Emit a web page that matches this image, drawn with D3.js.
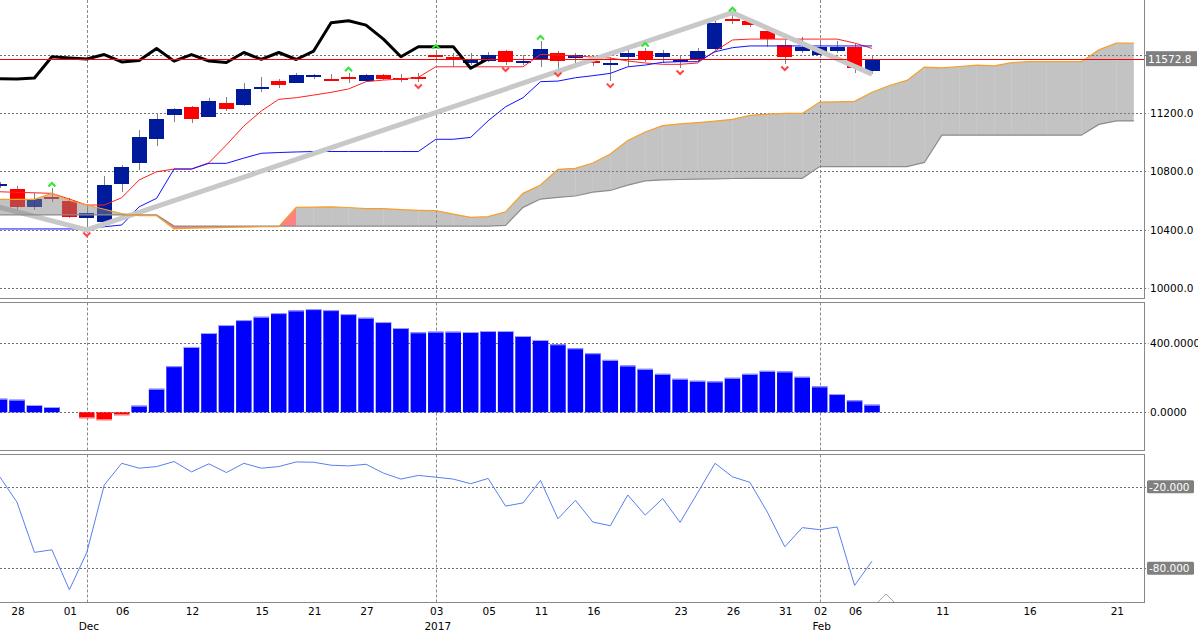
<!DOCTYPE html>
<html>
<head>
<meta charset="utf-8">
<script src="https://cdn.jsdelivr.net/npm/d3@7/dist/d3.min.js"></script>
<style>
html,body{margin:0;padding:0;background:#fff;overflow:hidden;}
svg{display:block;font-family:"DejaVu Sans",Verdana,sans-serif;}
</style>
</head>
<body>
<svg id="chart" width="1198" height="635"></svg>
<script>
"use strict";

// daily bars, bar 0 is the half hidden one at the left edge
var opens  = [10699,10679,10557,10624,10599,10478,10455,10711,10859,11024,11188,11241,11175,11269,11255,11365,11421,11408,11447,11433,
              11449,11421,11463,11442,11449,11598,11584,11545,11559,11625,11545,11570,11613,11574,11560,11539,11586,11627,11586,11557,
              11568,11639,11845,11831,11762,11666,11627,11598,11625,11655,11490];
var highs  = [10727,10699,10651,10686,10619,10549,10768,10843,11083,11202,11236,11248,11301,11312,11404,11449,11433,11476,11470,11465,
              11476,11470,11466,11465,11476,11632,11611,11609,11618,11632,11598,11694,11625,11611,11591,11586,11632,11646,11632,11598,
              11644,11833,11888,11849,11781,11705,11719,11687,11696,11678,11598];
var lows   = [10686,10535,10535,10592,10480,10398,10439,10660,10809,10976,11140,11133,11175,11214,11248,11346,11371,11404,11433,11419,
              11404,11417,11426,11411,11413,11563,11517,11529,11552,11529,11529,11517,11495,11545,11524,11419,11524,11552,11541,11509,
              11552,11632,11810,11792,11655,11536,11609,11586,11609,11476,11467];
var closes = [10710,10557,10608,10615,10489,10516,10706,10832,11035,11159,11227,11161,11282,11229,11365,11376,11394,11461,11461,11426,
              11442,11463,11435,11433,11440,11586,11577,11570,11601,11550,11560,11642,11556,11601,11557,11546,11615,11568,11615,11567,
              11625,11819,11833,11803,11707,11586,11655,11655,11655,11507,11572.8];

// ichimoku lines
var tenkan = [10660,10656,10653,10649,10610,10569,10569,10619,10741,10797,10816,10816,10859,10981,11111,11214,11294,11305,11323,11342,
              11365,11415,11426,11433,11445,11517,11517,11517,11517,11517,11517,11602,11598,11591,11584,11577,11557,11543,11534,11534,
              11543,11625,11701,11707,11707,11707,11707,11707,11707,11680,11643];
var kijun  = [10405,10405,10405,10405,10405,10405,10420,10432,10557,10615,10816,10816,10855,10855,10891,10924,10929,10933,10936,10936,
              10936,10936,10936,10936,10936,11020,11020,11033,11147,11243,11305,11415,11419,11442,11456,11472,11517,11529,11548,11552,
              11552,11620,11648,11660,11660,11660,11660,11660,11660,11660,11660];
var senkouA = [10608,10608,10608,10649,10600,10569,10540,10510,10497,10496,10405,10410,10413,10416,10418,10420,10420,10553,10555,10557,
               10552,10544,10544,10538,10533,10530,10507,10485,10489,10523,10649,10706,10814,10821,10857,10919,11011,11070,11114,11125,
               11134,11145,11157,11184,11192,11197,11197,11275,11277,11280,11343,11389,11424,11515,11510,11519,11528,11524,11545,11552,
               11552,11552,11552,11633,11679,11679];
var senkouB = [10501,10501,10501,10501,10501,10501,10501,10501,10501,10501,10425,10425,10425,10425,10425,10425,10425,10425,10425,10425,
               10425,10425,10425,10425,10425,10425,10425,10425,10425,10430,10553,10610,10621,10631,10658,10669,10706,10735,10741,10744,
               10747,10749,10751,10752,10752,10752,10752,10833,10833,10833,10833,10833,10833,10861,11048,11048,11048,11048,11048,11048,
               11048,11048,11048,11122,11146,11146];
var chikouShift = 22;

// fractals and zigzag
var upFractals = [3,20,25,31,37,42];
var downFractals = [5,24,29,32,35,39,45];
var zigzagIndex = [-3,5,42,50];
var zigzagValue = [10648,10398,11888,11467];

// lower panels
var histValues = [78.8,73,42.3,30.8,0,-34.6,-46,-17.3,38.5,136.5,267.3,378.8,459.6,505.7,534.6,553.8,575,590.4,598,592.3,
                  569.2,548,523,488.4,463.4,467.3,467.3,465.4,471.1,471.1,442.3,419.2,394.2,371.1,342.3,303.8,271.1,252,223,194.2,
                  182.7,178.8,200,223,240.4,236.5,205.8,150,105.8,69.2,44.2];
var willrValues = [-12.5,-31.4,-68.3,-66.4,-95.8,-68.3,-18.8,-2.8,-6.4,-5.2,-1.5,-9.1,-3.2,-9.6,-2.8,-6.4,-5.2,-1.8,-2.0,-4.2,
                   -4.7,-3.5,-10.0,-14.4,-11.7,-13.0,-14.4,-17.8,-13.9,-34.3,-31.9,-15.4,-43.6,-30.0,-46.0,-48.7,-26.1,-40.9,-28.7,-46.2,
                   -24.6,-2.8,-12.7,-16.8,-38.7,-64.2,-50.1,-51.6,-49.6,-92.6,-74.7];

// ticks
var dayTickIndex = [1,4,7,11,15,18,21,25,28,31,34,39,42,45,47,49,54,59,64];
var dayTickLabel = ["28","01","06","12","15","21","27","03","05","11","16","23","26","31","02","06","11","16","21"];
var monthTickIndex = [5,25,47];
var monthTickLabel = ["Dec","2017","Feb"];
var priceTicks = [10000,10400,10800,11200,11600];
var histTicks = [0,400];
var willrTicks = [-20,-80];

var plotRight = 1144.5;
var pricePanel = [-1, 298.5];
var histPanel = [302.5, 450.5];
var willrPanel = [454.5, 602.5];
var fontSize = "10.5px";

var svg = d3.select("#chart");

var x = d3.scaleLinear().domain([0, 65]).range([-0.45, 1133.8]);
var yPrice = d3.scaleLinear().domain([10000, 11600]).range([288, 54.7]);
var yHist = d3.scaleLinear().domain([0, 400]).range([412.3, 343.3]);
var yWillr = d3.scaleLinear().domain([-20, -80]).range([486.7, 568.3]);

var lastPrice = closes[closes.length - 1];

function px(v){ return Math.round(v) + 0.5; }

// clip areas for the three panels
var defs = svg.append("defs");
function addClip(id, panel){
    defs.append("clipPath").attr("id", id).append("rect")
        .attr("x", 0).attr("y", Math.max(0, panel[0]))
        .attr("width", plotRight).attr("height", panel[1] - Math.max(0, panel[0]));
}
addClip("clipPrice", pricePanel);
addClip("clipHist", histPanel);
addClip("clipWillr", willrPanel);

/**
 * dotted grid + right axis labels of one panel
 * @param hideNear  pixel y where a label box sits (label under it is skipped)
 */
function drawGrid(panel, scale, ticks, format, boxed, hideNear){
    var g = svg.append("g").attr("class", "grid");

    g.selectAll(".hGrid").data(ticks).enter().append("line")
        .attr("x1", 0).attr("x2", plotRight + 4)
        .attr("y1", function(d){ return px(scale(d)); })
        .attr("y2", function(d){ return px(scale(d)); })
        .attr("stroke", "#707070")
        .attr("stroke-dasharray", "2,2");

    g.selectAll(".vGrid").data(monthTickIndex).enter().append("line")
        .attr("x1", function(d){ return px(x(d)); })
        .attr("x2", function(d){ return px(x(d)); })
        .attr("y1", Math.max(0, panel[0])).attr("y2", panel[1])
        .attr("stroke", "#8a8a8a")
        .attr("stroke-dasharray", "3,2");

    var shown = ticks.filter(function(d){
        return hideNear === undefined || Math.abs(scale(d) - hideNear) > 12;
    });
    var labels = g.selectAll(".yLabel").data(shown).enter().append("g")
        .attr("transform", function(d){ return "translate(0," + scale(d) + ")"; });
    if(boxed){
        labels.append("rect")
            .attr("x", 1147).attr("y", -6.5)
            .attr("width", 47).attr("height", 13)
            .attr("rx", 1.5)
            .attr("fill", "#808080");
    }
    labels.append("text")
        .attr("x", boxed ? 1149 : 1150)
        .attr("y", 3.9)
        .attr("font-size", fontSize)
        .attr("fill", boxed ? "#fff" : "#000")
        .text(format);
}

drawGrid(pricePanel, yPrice, priceTicks, function(d){ return d.toFixed(1); }, false, yPrice(lastPrice));
drawGrid(histPanel, yHist, histTicks, function(d){ return d.toFixed(4); }, false);
drawGrid(willrPanel, yWillr, willrTicks, function(d){ return d.toFixed(3); }, true);

// ---------- price panel ----------
var gPrice = svg.append("g").attr("clip-path", "url(#clipPrice)");
var bars = d3.range(closes.length);

// wicks
gPrice.selectAll(".wick").data(bars).enter().append("line")
    .attr("class", "wick")
    .attr("x1", function(i){ return px(x(i)); })
    .attr("x2", function(i){ return px(x(i)); })
    .attr("y1", function(i){ return Math.round(yPrice(highs[i])); })
    .attr("y2", function(i){ return Math.round(yPrice(lows[i])); })
    .attr("stroke", "#808080");

// bodies
gPrice.selectAll(".body").data(bars).enter().append("rect")
    .attr("class", "body")
    .attr("x", function(i){ return Math.round(x(i) - 7.5); })
    .attr("width", 15)
    .attr("y", function(i){ return Math.round(yPrice(Math.max(opens[i], closes[i]))); })
    .attr("height", function(i){
        var h = Math.round(yPrice(Math.min(opens[i], closes[i]))) - Math.round(yPrice(Math.max(opens[i], closes[i])));
        return Math.max(2, h);
    })
    .attr("fill", function(i){ return closes[i] >= opens[i] ? "#001a9c" : "#ff0000"; });

var lineGen = d3.line()
    .x(function(d, i){ return x(i); })
    .y(function(d){ return yPrice(d); });

gPrice.append("path").datum(tenkan)
    .attr("d", lineGen)
    .attr("fill", "none").attr("stroke", "#ff2020").attr("stroke-width", 1);

gPrice.append("path").datum(kijun)
    .attr("d", lineGen)
    .attr("fill", "none").attr("stroke", "#1010ff").attr("stroke-width", 1);

// zigzag
gPrice.append("path").datum(d3.range(zigzagIndex.length))
    .attr("d", d3.line()
        .x(function(k){ return x(zigzagIndex[k]); })
        .y(function(k){ return yPrice(zigzagValue[k]); }))
    .attr("fill", "none")
    .attr("stroke", "#c8c8c8")
    .attr("stroke-width", 5);

// chikou span: close plotted back by the shift
var chikou = d3.range(chikouShift, closes.length);
gPrice.append("path").datum(chikou)
    .attr("d", d3.line()
        .x(function(i){ return x(i - chikouShift); })
        .y(function(i){ return yPrice(closes[i]); }))
    .attr("fill", "none")
    .attr("stroke", "#000")
    .attr("stroke-width", 3)
    .attr("stroke-linejoin", "round");

// cloud, one piece per bar, drawn half transparent over the candles
gPrice.selectAll(".cloud").data(d3.range(senkouA.length - 1)).enter().append("path")
    .attr("class", "cloud")
    .attr("d", function(i){
        return "M" + x(i) + "," + yPrice(senkouA[i]) +
            "L" + x(i + 1) + "," + yPrice(senkouA[i + 1]) +
            "L" + x(i + 1) + "," + yPrice(senkouB[i + 1]) +
            "L" + x(i) + "," + yPrice(senkouB[i]) + "Z";
    })
    .attr("fill", function(i){ return senkouA[i] >= senkouB[i] ? "#858585" : "#ff0000"; })
    .attr("fill-opacity", 0.49);

gPrice.append("path").datum(senkouB)
    .attr("d", lineGen)
    .attr("fill", "none").attr("stroke", "#8c8c8c").attr("stroke-width", 1.2);

gPrice.append("path").datum(senkouA)
    .attr("d", lineGen)
    .attr("fill", "none").attr("stroke", "#f5a02a").attr("stroke-width", 1.2);

// fractal arrows
gPrice.selectAll(".upArrow").data(upFractals).enter().append("path")
    .attr("transform", function(i){ return "translate(" + x(i) + "," + yPrice(highs[i]) + ")"; })
    .attr("d", "M-3.5,-1.5L0,-5L3.5,-1.5")
    .attr("fill", "none").attr("stroke", "#2ee82e").attr("stroke-width", 2);

gPrice.selectAll(".downArrow").data(downFractals).enter().append("path")
    .attr("transform", function(i){ return "translate(" + x(i) + "," + yPrice(lows[i]) + ")"; })
    .attr("d", "M-3.5,2.5L0,6L3.5,2.5")
    .attr("fill", "none").attr("stroke", "#ff4545").attr("stroke-width", 2);

// last price line and label
svg.append("line")
    .attr("x1", 0).attr("x2", plotRight)
    .attr("y1", px(yPrice(lastPrice))).attr("y2", px(yPrice(lastPrice)))
    .attr("stroke", "#ff0000");
var gLast = svg.append("g").attr("transform", "translate(0," + yPrice(lastPrice) + ")");
gLast.append("rect")
    .attr("x", 1146).attr("y", -7.5)
    .attr("width", 51).attr("height", 15)
    .attr("fill", "#7f7f7f");
gLast.append("text")
    .attr("x", 1148).attr("y", 3.9)
    .attr("font-size", fontSize)
    .attr("fill", "#fff")
    .text(lastPrice.toFixed(1));

// ---------- histogram panel ----------
var gHist = svg.append("g").attr("clip-path", "url(#clipHist)");
gHist.selectAll(".hBar").data(bars).enter().append("rect")
    .attr("x", function(i){ return x(i) - 7.75; })
    .attr("width", 15.5)
    .attr("y", function(i){ return Math.min(yHist(histValues[i]), yHist(0)); })
    .attr("height", function(i){ return Math.abs(yHist(histValues[i]) - yHist(0)); })
    .attr("fill", function(i){ return histValues[i] >= 0 ? "#0000ff" : "#ff0000"; });

// light edge at the outer end of each bar
gHist.selectAll(".hEdge").data(bars.filter(function(i){ return histValues[i] !== 0; })).enter().append("line")
    .attr("x1", function(i){ return x(i) - 7.75; })
    .attr("x2", function(i){ return x(i) + 7.75; })
    .attr("y1", function(i){ return yHist(histValues[i]) + (histValues[i] > 0 ? 0.5 : -0.5); })
    .attr("y2", function(i){ return yHist(histValues[i]) + (histValues[i] > 0 ? 0.5 : -0.5); })
    .attr("stroke", function(i){ return histValues[i] > 0 ? "#a4a4ff" : "#ffa4a4"; });

// ---------- williams %R panel ----------
var gWillr = svg.append("g").attr("clip-path", "url(#clipWillr)");
gWillr.append("path").datum(willrValues)
    .attr("d", d3.line()
        .x(function(d, i){ return x(i); })
        .y(function(d){ return yWillr(d); }))
    .attr("fill", "none")
    .attr("stroke", "#5a7ef0")
    .attr("stroke-width", 1);

// small marker under the last bar
var markX = x(closes.length - 1) + 14;
svg.append("path")
    .attr("d", "M" + (markX - 8) + "," + (willrPanel[1] - 0.5) + "L" + markX + "," + (willrPanel[1] - 8.5) + "L" + (markX + 8) + "," + (willrPanel[1] - 0.5))
    .attr("fill", "#fff")
    .attr("stroke", "#a8a8a8");

// ---------- panel frames ----------
[pricePanel, histPanel, willrPanel].forEach(function(p){
    svg.append("rect")
        .attr("x", -1).attr("y", p[0])
        .attr("width", plotRight + 1).attr("height", p[1] - p[0])
        .attr("fill", "none")
        .attr("stroke", "#888");
});

// ---------- time axis ----------
var gAxis = svg.append("g").attr("class", "timeAxis");
gAxis.selectAll(".day").data(d3.range(dayTickIndex.length)).enter().append("text")
    .attr("x", function(k){ return x(dayTickIndex[k]) + 1; })
    .attr("y", 615)
    .attr("text-anchor", "middle")
    .attr("font-size", fontSize)
    .attr("fill", "#000")
    .text(function(k){ return dayTickLabel[k]; });

gAxis.selectAll(".month").data(d3.range(monthTickIndex.length)).enter().append("text")
    .attr("x", function(k){ return x(monthTickIndex[k]) + 2; })
    .attr("y", 630)
    .attr("text-anchor", "middle")
    .attr("font-size", fontSize)
    .attr("fill", "#000")
    .text(function(k){ return monthTickLabel[k]; });
</script>
</body>
</html>
